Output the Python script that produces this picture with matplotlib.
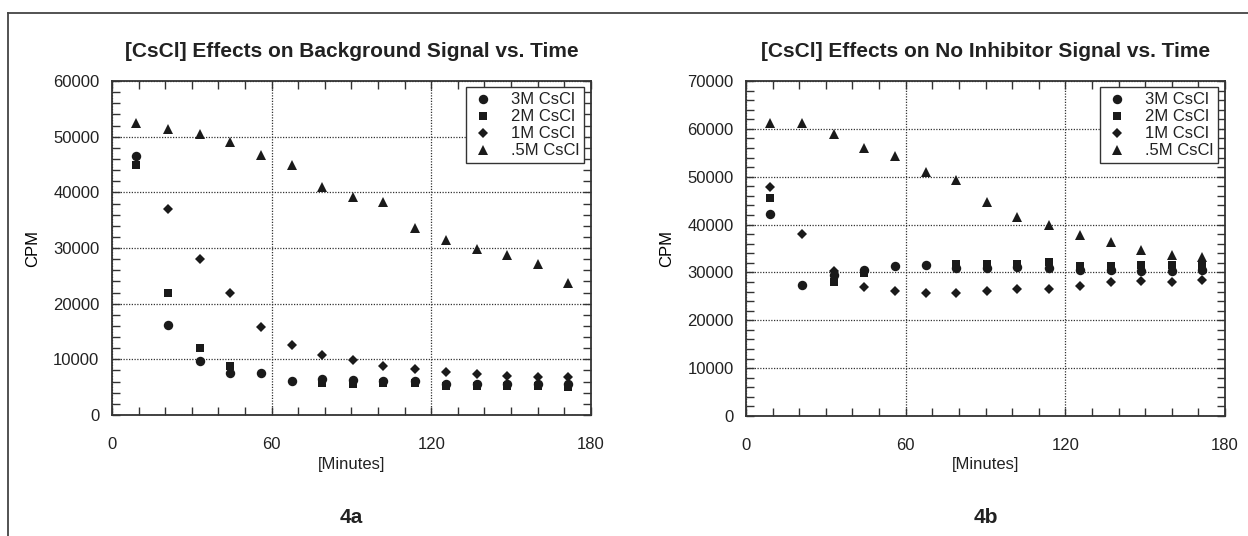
import numpy as np
import matplotlib
matplotlib.use('Agg')
import matplotlib.pyplot as plt
from matplotlib.ticker import MultipleLocator
from matplotlib.lines import Line2D

plt.rcParams.update({
    'font.family': ['Liberation Sans', 'DejaVu Sans'],
    'font.size': 12,
    'text.color': '#222222',
    'xtick.color': '#222222',
    'ytick.color': '#222222',
})

nan = np.nan
minutes = [9, 21, 33, 44.5, 56, 67.5, 79, 90.5, 102, 114, 125.5, 137, 148.5, 160, 171.5]
labels = ['3M CsCl', '2M CsCl', '1M CsCl', '.5M CsCl']

# 4a: background signal
bg_3m = [46500, 16200, 9700, 7500, 7600, 6100, 6400, 6300, 6100, 6200, 5600, 5600, 5500, 5500, 5500]
bg_2m = [45000, 22000, 12000, 8800, nan, nan, 5700, 5600, 5800, 5800, 5300, 5300, 5300, 5300, 5100]
bg_1m = [nan, 37100, 28000, 21900, 15800, 12600, 10700, 9800, 8800, 8300, 7700, 7400, 7000, 6800, 6800]
bg_05m = [52500, 51300, 50400, 49000, 46700, 44900, 40900, 39200, 38200, 33600, 31500, 29800, 28700, 27100, 23700]

# 4b: no inhibitor signal
ni_3m = [42300, 27400, 29500, 30500, 31300, 31500, 31000, 31000, 31100, 31000, 30600, 30600, 30400, 30400, 30600]
ni_2m = [45500, nan, 27900, 29800, nan, nan, 31800, 31800, 31800, 32200, 31300, 31300, 31500, 31500, 31500]
ni_1m = [47900, 38000, 30400, 26900, 26200, 25600, 25600, 26100, 26500, 26500, 27200, 27900, 28200, 28000, 28400]
ni_05m = [61300, 61300, 58900, 55900, 54300, 51000, 49300, 44700, 41600, 40000, 37800, 36400, 34700, 33600, 33300]

markers = [('o', 6.8), ('s', 6.3), ('D', 5.3), ('^', 7.3)]
ink = '#1a1a1a'

fig = plt.figure(figsize=(12.48, 5.36), dpi=100)

panels = [
    ([0.0897, 0.2257, 0.3838, 0.6231], '[CsCl] Effects on Background Signal vs. Time',
     [bg_3m, bg_2m, bg_1m, bg_05m], 60000, '4a'),
    ([0.5978, 0.2239, 0.3838, 0.6250], '[CsCl] Effects on No Inhibitor Signal vs. Time',
     [ni_3m, ni_2m, ni_1m, ni_05m], 70000, '4b'),
]

for rect, title, series, ymax, tag in panels:
    ax = fig.add_axes(rect)
    for vals, (m, ms), lab in zip(series, markers, labels):
        ax.plot(minutes, vals, ls='none', marker=m, ms=ms, color=ink,
                markeredgewidth=0, label=lab, clip_on=False)

    ax.set_xlim(0, 180)
    ax.set_ylim(0, ymax)
    ax.xaxis.set_major_locator(MultipleLocator(60))
    ax.xaxis.set_minor_locator(MultipleLocator(10))
    ax.yaxis.set_major_locator(MultipleLocator(10000))
    ax.yaxis.set_minor_locator(MultipleLocator(2000))
    ax.tick_params(which='both', direction='in', top=True, right=True,
                   width=1, color='#333333', length=6)
    ax.tick_params(axis='x', which='major', pad=16, labelsize=12)
    ax.tick_params(axis='y', which='major', pad=9, labelsize=12)
    ax.grid(True, which='major', ls=(0, (1, 1.2)), lw=0.9, color='#333333')
    for sp in ax.spines.values():
        sp.set_linewidth(1.3)
        sp.set_color('#333333')

    ax.set_ylabel('CPM', fontsize=12)
    ax.yaxis.set_label_coords(-0.15, 0.5)

    leg = ax.legend(loc='upper right', bbox_to_anchor=(0.986, 0.981),
                    borderaxespad=0, numpoints=1, fontsize=12,
                    labelspacing=0.12, borderpad=0.3, handlelength=1.4,
                    handletextpad=1.0, fancybox=False, framealpha=1,
                    edgecolor='#333333')
    leg.get_frame().set_linewidth(1.0)

    cx = rect[0] + rect[2] / 2
    fig.text(cx, 0.903, title, ha='center', va='center', fontsize=15,
             fontweight='bold')
    fig.text(cx, 0.1325, '[Minutes]', ha='center', va='center', fontsize=12)
    fig.text(cx, 0.034, tag, ha='center', va='center', fontsize=15,
             fontweight='bold')

# outer frame (top and left edges of the figure box)
x0, y0 = 8 / 1248, 1 - 13 / 536
fig.add_artist(Line2D([x0, 1.0], [y0, y0], color='#444444', lw=1.3))
fig.add_artist(Line2D([x0, x0], [0.0, y0], color='#444444', lw=1.3))

fig.savefig('out.png', dpi=100)
